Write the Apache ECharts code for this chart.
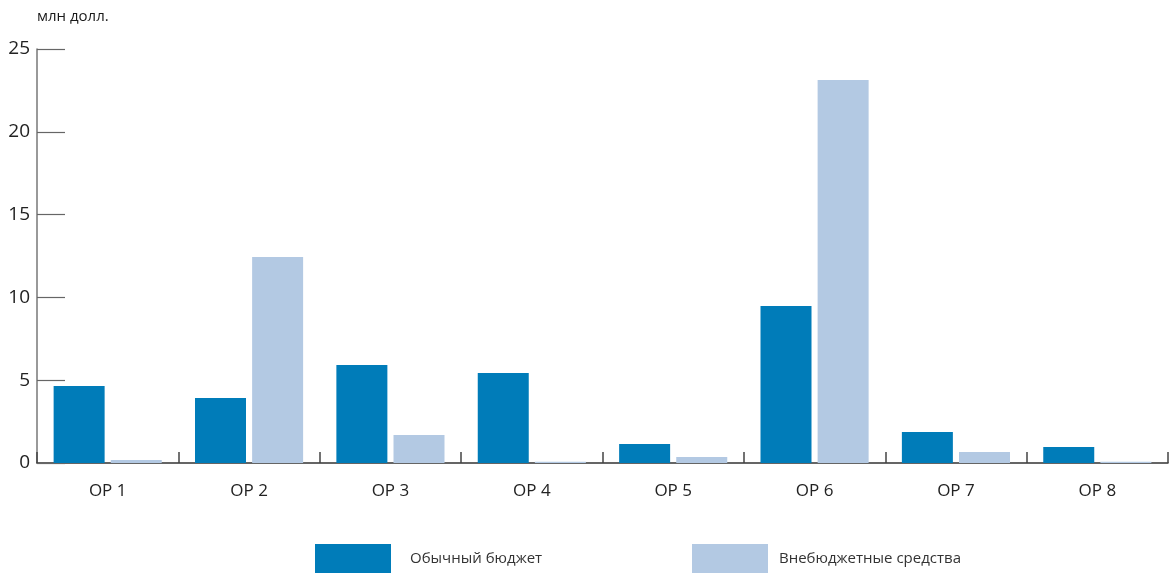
<!DOCTYPE html>
<html><head><meta charset="utf-8">
<script src="https://cdn.jsdelivr.net/npm/echarts@6/dist/echarts.min.js"></script>
<style>html,body{margin:0;padding:0;background:#fff}#c{width:1170px;height:575px}</style>
</head><body><div id="c"></div>
<script>
const categories = ['ОР 1','ОР 2','ОР 3','ОР 4','ОР 5','ОР 6','ОР 7','ОР 8'];
const regularBudget = [4.65, 3.93, 5.92, 5.43, 1.15, 9.48, 1.87, 0.97];
const extraBudget = [0.18, 12.44, 1.69, 0.08, 0.36, 23.13, 0.66, 0.08];
const seriesNames = ['Обычный бюджет', 'Внебюджетные средства'];
const unitLabel = 'млн долл.';
const yTicks = [0, 5, 10, 15, 20, 25];

const FONT = 'Open Sans';
const chart = echarts.init(document.getElementById('c'), null, {renderer: 'canvas'});
chart.setOption({
  animation: false,
  textStyle: {fontFamily: FONT},
  title: {text: unitLabel, left: 32, top: 4, textStyle: {fontSize: 15, fontWeight: 500, color: '#1a1a1a', fontFamily: FONT}},
  legend: [
    {data: [seriesNames[0]], left: 315, top: 544, padding: 0, itemWidth: 76, itemHeight: 29,
     textStyle: {fontSize: 15, color: '#333', padding: [0, 0, 0, 14]}, icon: 'rect', selectedMode: false},
    {data: [seriesNames[1]], left: 692, top: 544, padding: 0, itemWidth: 76, itemHeight: 29,
     textStyle: {fontSize: 15, color: '#333', padding: [0, 0, 0, 6]}, icon: 'rect', selectedMode: false}
  ],
  grid: {left: 37, right: 2, top: 49, bottom: 112, containLabel: false},
  xAxis: {
    type: 'category', data: categories,
    axisLine: {lineStyle: {color: '#333', width: 1.5}},
    axisTick: {show: true, inside: true, length: 11, lineStyle: {color: '#444', width: 1.5}},
    axisLabel: {fontSize: 17, color: '#222', margin: 20}
  },
  yAxis: {
    type: 'value', min: yTicks[0], max: yTicks[yTicks.length - 1], interval: 5,
    axisLine: {show: true, lineStyle: {color: '#777', width: 1.5}},
    axisTick: {show: true, inside: true, length: 28, lineStyle: {color: '#666', width: 1.2}},
    axisLabel: {fontSize: 19, color: '#222', margin: 7},
    splitLine: {show: false}
  },
  series: [
    {name: seriesNames[0], type: 'bar', data: regularBudget, barWidth: 51, barGap: '12%', itemStyle: {color: '#007CB9'}},
    {name: seriesNames[1], type: 'bar', data: extraBudget, barWidth: 51, itemStyle: {color: '#B3C9E3'}}
  ]
});
</script></body></html>
